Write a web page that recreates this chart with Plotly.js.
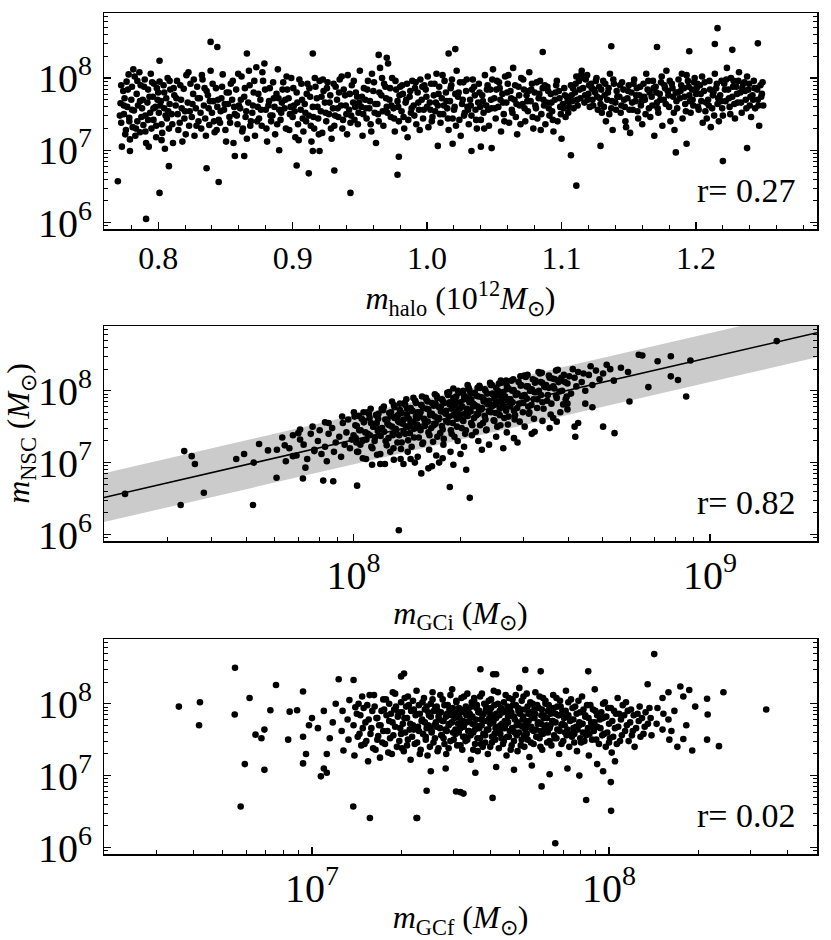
<!DOCTYPE html>
<html><head><meta charset="utf-8">
<script src="https://cdn.plot.ly/plotly-3.0.1.min.js"></script>
<style>html,body{margin:0;padding:0;background:#fff;}#plot{width:831px;height:940px;}</style>
</head><body><div id="plot"></div>
<script>
// ---- Panel 1: halo mass (10^12 Msun) vs log10 M_NSC ----
const haloMass = [
0.772,0.7725,0.773, 0.774,0.7745,0.775, 0.776,0.7765,0.777, 0.778,0.7785,0.779, 0.780,0.7805,0.781,
0.782,0.7825,0.783, 0.784,0.7845,0.785, 0.786,0.7865,0.787, 0.788,0.7885,0.789, 0.790,0.7905,0.791,
0.792,0.7925,0.793, 0.794,0.7945,0.795, 0.796,0.7965,0.797, 0.798,0.7985,0.799, 0.800,0.8005,0.801,
0.802,0.8025,0.803, 0.804,0.8045,0.805, 0.806,0.8065,0.807, 0.808,0.8085,0.809, 0.810,0.811,0.812,
0.813,0.814,0.815, 0.816,0.817,0.818, 0.819,0.820,0.821, 0.822,0.823,0.824, 0.825,0.826,0.827,
0.828,0.829,0.830, 0.831,0.832,0.833, 0.834,0.835,0.836, 0.837,0.838,0.839, 0.840,0.841,0.842,
0.843,0.844,0.845, 0.846,0.847,0.848, 0.849,0.850,0.851, 0.852,0.853,0.854, 0.855,0.856,0.857,
0.858,0.859,0.860, 0.861,0.862,0.863, 0.864,0.865,0.866, 0.867,0.868,0.869, 0.870,0.871,0.872,
0.873,0.874,0.875, 0.876,0.877,0.878, 0.879,0.880,0.881, 0.882,0.883,0.884, 0.885,0.886,0.887,
0.888,0.889,0.890, 0.891,0.892,0.893, 0.894,0.895,0.896, 0.897,0.898,0.899, 0.900,0.901,0.902,
0.903,0.904,0.905, 0.906,0.907,0.908, 0.909,0.910,0.911, 0.912,0.913,0.914, 0.915,0.916,0.917,
0.918,0.919,0.920, 0.921,0.922,0.923, 0.924,0.925,0.926, 0.927,0.928,0.929, 0.930,0.931,0.932,
0.933,0.934,0.935, 0.936,0.937,0.938, 0.939,0.940,0.941, 0.942,0.943,0.944, 0.945,0.946,0.947,
0.948,0.949,0.950, 0.951,0.952,0.953, 0.954,0.955,0.956, 0.957,0.958,0.959, 0.960,0.961,0.962,
0.963,0.964,0.965, 0.966,0.967,0.968, 0.969,0.970,0.971, 0.972,0.973,0.974, 0.975,0.976,0.977,
0.978,0.979,0.980, 0.981,0.982,0.983, 0.984,0.985,0.986, 0.987,0.988,0.989, 0.990,0.991,0.992,
0.993,0.994,0.995, 0.996,0.997,0.998, 0.999,1.000,1.001, 1.002,1.003,1.004, 1.005,1.006,1.007,
1.008,1.009,1.010, 1.011,1.012,1.013, 1.014,1.015,1.016, 1.017,1.018,1.019, 1.020,1.021,1.022,
1.023,1.024,1.025, 1.026,1.027,1.028, 1.029,1.030,1.031, 1.032,1.033,1.034, 1.035,1.036,1.037,
1.038,1.039,1.040, 1.041,1.042,1.043, 1.044,1.045,1.046, 1.047,1.048,1.049, 1.050,1.051,1.052,
1.053,1.054,1.055, 1.056,1.057,1.058, 1.059,1.060,1.061, 1.062,1.063,1.064, 1.065,1.066,1.067,
1.068,1.069,1.070, 1.071,1.072,1.073, 1.074,1.075,1.076, 1.077,1.078,1.079, 1.080,1.081,1.082,
1.083,1.084,1.085, 1.086,1.087,1.088, 1.089,1.090,1.091, 1.092,1.093,1.094, 1.095,1.096,1.097,
1.098,1.099,1.100, 1.101,1.102,1.103, 1.104,1.105,1.106, 1.107,1.108,1.109, 1.110,1.111,1.112,
1.113,1.114,1.115, 1.116,1.117,1.118, 1.119,1.120,1.121, 1.122,1.123,1.124, 1.125,1.126,1.127,
1.128,1.129,1.130, 1.131,1.132,1.133, 1.134,1.135,1.136, 1.137,1.138,1.139, 1.140,1.141,1.142,
1.143,1.144,1.145, 1.146,1.147,1.148, 1.149,1.150,1.151, 1.152,1.153,1.154, 1.155,1.156,1.157,
1.158,1.159,1.160, 1.161,1.162,1.163, 1.164,1.165,1.166, 1.167,1.168,1.169, 1.170,1.171,1.172,
1.173,1.174,1.175, 1.176,1.177,1.178, 1.179,1.180,1.181, 1.182,1.183,1.184, 1.185,1.186,1.187,
1.188,1.189,1.190, 1.191,1.192,1.193, 1.194,1.195,1.196, 1.197,1.198,1.199, 1.200,1.201,1.202,
1.203,1.204,1.205, 1.206,1.207,1.208, 1.209,1.210,1.211, 1.212,1.213,1.214, 1.215,1.216,1.217,
1.218,1.219,1.220, 1.221,1.222,1.223, 1.224,1.225,1.226, 1.227,1.228,1.229, 1.230,1.231,1.232,
1.233,1.234,1.235, 1.236,1.237,1.238, 1.239,1.240,1.241, 1.242,1.243,1.244, 1.245,1.246,1.247,
1.248,1.249,1.250,
0.7715,0.7725, 0.7745,0.7755, 0.7775,0.7785, 0.7805,0.7815, 0.7835,0.7845,
0.7865,0.7875, 0.7895,0.7905, 0.7925,0.7935, 0.7955,0.7965, 0.7985,0.7995,
0.8015,0.8025, 0.8045,0.8055, 0.8075,0.8085, 0.8105,0.8115, 0.8135,0.8145,
0.8165,0.8175, 0.8195,0.8205, 0.8225,0.8235, 0.8255,0.8265, 0.8285,0.8295,
0.8315,0.8325, 0.8345,0.8355, 0.8375,0.8385, 0.8405,0.8415, 0.8435,0.8445,
0.8465,0.8475, 0.8495,0.8505, 0.8525,0.8535, 0.8555,0.8565, 0.8585,0.8595,
0.8615,0.8625, 0.8645,0.8655, 0.8675,0.8685, 0.8705,0.8715, 0.8735,0.8745,
0.8765,0.8775, 0.8795,0.8805, 0.8825,0.8835, 0.8855,0.8865, 0.8885,0.8895,
0.8915,0.8925, 0.8945,0.8955, 0.8975,0.8985, 0.9005,0.9015, 0.9035,0.9045,
0.9065,0.9075, 0.9095,0.9105, 0.9125,0.9135, 0.9155,0.9165, 0.9185,0.9195,
0.9215,0.9225, 0.9245,0.9255, 0.9275,0.9285, 0.9305,0.9315, 0.9335,0.9345,
0.9365,0.9375, 0.9395,0.9405, 0.9425,0.9435, 0.9455,0.9465, 0.9485,0.9495,
0.9515,0.9525, 0.9545,0.9555, 0.9575,0.9585, 0.9605,0.9615, 0.9635,0.9645,
0.9665,0.9675, 0.9695,0.9705, 0.9725,0.9735, 0.9755,0.9765, 0.9785,0.9795,
0.9815,0.9825, 0.9845,0.9855, 0.9875,0.9885, 0.9905,0.9915, 0.9935,0.9945,
0.9965,0.9975, 0.9995,1.0005, 1.0025,1.0035, 1.0055,1.0065, 1.0085,1.0095,
1.0115,1.0125, 1.0145,1.0155, 1.0175,1.0185, 1.0205,1.0215, 1.0235,1.0245,
1.0265,1.0275, 1.0295,1.0305, 1.0325,1.0335, 1.0355,1.0365, 1.0385,1.0395,
1.0415,1.0425, 1.0445,1.0455, 1.0475,1.0485, 1.0505,1.0515, 1.0535,1.0545,
1.0565,1.0575, 1.0595,1.0605, 1.0625,1.0635, 1.0655,1.0665, 1.0685,1.0695,
1.0715,1.0725, 1.0745,1.0755, 1.0775,1.0785, 1.0805,1.0815, 1.0835,1.0845,
1.0865,1.0875, 1.0895,1.0905, 1.0925,1.0935, 1.0955,1.0965, 1.0985,1.0995,
1.1015,1.1025, 1.1045,1.1055, 1.1075,1.1085, 1.1105,1.1115, 1.1135,1.1145,
1.1165,1.1175, 1.1195,1.1205, 1.1225,1.1235, 1.1255,1.1265, 1.1285,1.1295,
1.1315,1.1325, 1.1345,1.1355, 1.1375,1.1385, 1.1405,1.1415, 1.1435,1.1445,
1.1465,1.1475, 1.1495,1.1505, 1.1525,1.1535, 1.1555,1.1565, 1.1585,1.1595,
1.1615,1.1625, 1.1645,1.1655, 1.1675,1.1685, 1.1705,1.1715, 1.1735,1.1745,
1.1765,1.1775, 1.1795,1.1805, 1.1825,1.1835, 1.1855,1.1865, 1.1885,1.1895,
1.1915,1.1925, 1.1945,1.1955, 1.1975,1.1985, 1.2005,1.2015, 1.2035,1.2045,
1.2065,1.2075, 1.2095,1.2105, 1.2125,1.2135, 1.2155,1.2165, 1.2185,1.2195,
1.2215,1.2225, 1.2245,1.2255, 1.2275,1.2285, 1.2305,1.2315, 1.2335,1.2345,
1.2365,1.2375, 1.2395,1.2405, 1.2425,1.2435, 1.2455,1.2465, 1.2485,1.2495,
0.770,0.791,0.801,0.808,0.836,0.845,0.839,0.844,0.866,0.801,0.857,0.864,0.903,0.912,0.915,0.931,
0.943,0.978,0.979,0.964,0.970,0.915,0.920,0.890,0.779,1.107,1.111,1.129,1.220,1.238,1.216,1.214,
1.246,1.227,1.185,1.193,1.137,1.171,1.021,1.016,1.008,1.033,1.040,1.048,1.019,1.086,1.195
];
const nscLogA = [
7.65,7.38,7.05, 7.82,7.50,7.72, 7.28,7.95,7.60, 8.05,7.45,7.15, 7.70,7.88,7.32,
7.55,8.02,7.20, 7.78,7.40,7.62, 8.08,7.25,7.90, 7.58,7.70,7.35, 7.98,7.48,7.10,
7.66,7.84,7.05, 7.52,8.06,7.30, 7.74,7.42,7.92, 7.60,7.18,7.86, 7.80,7.52,7.95,
7.68,7.36,7.24, 7.90,7.58,7.02, 7.72,7.44,8.00, 7.30,7.64,7.84, 7.50,7.10,7.76,
7.62,7.96,7.28, 7.38,7.70,7.12, 7.85,7.54,8.04, 7.66,7.34,7.92, 7.46,7.78,7.20,
7.58,7.88,7.40, 7.72,7.30,7.98, 7.62,7.44,7.82, 7.76,7.35,8.10, 7.52,7.68,7.25,
7.86,7.60,7.42, 7.38,7.72,8.05, 7.56,7.28,7.80, 7.64,7.46,7.92, 7.70,7.10,7.50,
7.84,7.36,7.62, 7.58,8.02,7.30, 7.74,7.46,7.16, 7.66,7.90,7.40, 7.52,7.80,7.20,
8.15,7.60,7.44, 7.70,7.34,7.96, 8.20,7.56,7.12, 7.62,7.86,7.40, 7.48,7.72,7.22,
7.78,8.12,7.56, 7.42,7.66,7.94, 7.58,7.30,7.84, 7.72,7.50,8.00, 7.46,7.62,7.18,
7.80,7.36,7.98, 7.56,7.70,7.26, 7.64,7.40,7.92, 7.48,7.74,7.12, 7.60,7.30,7.88,
7.72,7.44,7.96, 7.54,7.24,7.82, 7.66,7.40,7.94, 7.50,7.76,7.16, 7.58,7.34,7.88,
7.70,7.46,7.98, 7.62,7.30,7.84, 7.76,7.50,8.04, 7.56,7.38,7.90, 7.66,7.42,7.80,
7.74,7.52,8.10, 7.60,7.20,7.86, 7.70,7.44,7.96, 7.58,7.36,8.06, 7.82,7.52,7.10,
7.64,7.40,8.14, 7.76,7.54,7.92, 7.88,7.60,8.20, 7.70,7.46,8.00, 7.58,7.26,7.84,
7.68,7.40,7.88, 7.54,7.78,7.30, 7.66,7.92,7.42, 7.74,7.52,7.96, 7.62,7.86,7.36,
7.80,7.56,7.98, 7.70,7.44,7.90, 7.84,7.60,7.32, 7.66,7.92,7.46, 7.76,7.54,8.06,
7.62,7.88,7.38, 7.72,7.50,7.96, 7.80,7.58,7.28, 7.68,7.90,7.44, 7.56,7.78,8.10,
7.74,7.42,7.20, 7.64,7.94,7.52, 7.82,7.60,7.36, 7.70,7.48,7.98, 7.88,7.56,7.30,
7.66,7.80,7.42, 7.76,7.52,8.04, 7.62,7.90,7.34, 7.84,7.58,8.12, 7.72,7.44,7.96,
7.60,7.86,7.26, 7.78,7.50,8.02, 7.66,7.92,7.38, 7.82,7.56,8.14, 7.70,7.46,7.22,
7.88,7.62,8.00, 7.64,7.84,7.40, 7.76,7.54,8.08, 7.68,7.92,7.30, 7.80,7.58,7.44,
7.72,7.96,7.50, 7.86,7.62,7.36, 7.66,7.82,7.48, 7.78,7.54,7.26, 7.70,7.90,7.40,
7.82,7.60,7.16, 7.64,7.86,7.46, 7.74,7.52,7.68, 7.90,7.68,7.58, 7.80,8.02,7.62,
7.96,7.72,8.10, 7.86,7.66,7.98, 8.04,7.78,7.60, 7.92,7.70,7.84, 7.80,8.00,7.56,
7.88,7.64,7.52, 7.96,7.76,7.40, 7.70,7.86,8.06, 7.58,7.28,7.92, 7.66,7.82,7.74,
7.74,7.52,7.94, 7.84,7.60,7.32, 7.72,7.90,7.24, 7.80,7.56,7.98, 7.68,7.86,7.44,
7.76,7.62,7.36, 7.92,7.70,8.06, 7.84,7.58,7.46, 7.74,7.96,7.20, 7.88,7.66,7.52,
7.78,7.94,7.34, 7.70,7.86,8.10, 7.82,7.60,7.40, 7.92,7.74,7.28, 7.80,7.58,7.98,
7.72,7.90,7.44, 7.86,7.64,8.04, 7.96,7.76,7.52, 7.84,7.62,8.00, 7.78,7.92,7.56,
7.90,7.68,7.38, 7.82,7.54,7.44, 7.70,7.96,7.32, 7.58,7.80,8.06, 7.86,7.64,7.40,
7.76,7.96,7.48, 7.92,7.68,8.14, 7.84,7.60,8.00, 7.74,7.96,7.44, 7.88,7.66,8.08,
7.80,7.52,7.92, 7.94,7.70,8.02, 7.84,7.62,7.46, 7.76,7.96,7.58, 7.86,7.70,7.34,
7.90,7.78,7.62,
7.48,7.90, 7.62,7.22, 7.84,7.40, 7.56,8.12, 7.30,7.96,
7.68,7.46, 7.88,7.26, 7.42,7.74, 7.94,7.58, 7.34,7.70,
7.62,7.14, 7.80,7.48, 7.54,7.96, 7.36,7.86, 7.72,7.50,
7.90,7.58, 7.44,7.22, 8.08,7.54, 7.64,7.98, 7.34,7.72,
7.52,8.04, 7.86,7.20, 7.58,7.68, 7.92,7.40, 7.28,7.70,
7.54,7.88, 7.64,7.12, 7.80,7.38, 7.96,7.60, 7.48,8.06,
7.70,7.26, 7.86,7.54, 8.10,7.34, 7.62,7.96, 7.40,7.78,
7.56,8.08, 7.84,7.30, 7.68,7.48, 7.94,7.60, 7.36,7.72,
7.52,7.84, 7.70,8.02, 7.28,7.60, 7.86,7.54, 7.66,7.14,
7.92,7.44, 7.52,7.78, 7.86,7.34, 7.46,8.00, 7.60,7.22,
7.74,7.98, 7.52,7.86, 7.66,7.30, 7.92,7.48, 7.58,7.80,
8.02,7.42, 7.62,7.22, 7.78,7.48, 7.96,7.60, 7.36,7.66,
7.74,7.50, 7.58,7.84, 7.68,7.26, 7.94,7.64, 7.50,7.80,
8.00,7.34, 7.72,7.52, 7.86,7.62, 7.44,7.96, 7.60,7.76,
7.90,7.46, 7.70,7.18, 7.82,7.58, 7.48,7.94, 7.66,7.28,
7.88,7.56, 7.74,8.02, 7.56,7.40, 7.92,7.66, 7.78,7.50,
8.04,7.62, 7.68,7.44, 7.86,7.98, 7.60,7.34, 7.80,7.94,
7.70,7.48, 7.98,7.56, 7.62,7.84, 7.76,7.42, 7.92,7.60,
7.68,7.30, 7.84,7.56, 7.70,7.98, 7.58,7.84, 7.94,7.70,
7.66,7.40, 7.80,8.04, 7.72,7.52, 7.90,7.64, 7.76,7.36,
7.98,7.58, 7.68,7.82, 7.84,7.46, 7.62,7.94, 7.78,7.28,
7.70,7.90, 7.88,7.58, 7.66,7.42, 7.80,7.96, 7.72,7.50,
7.58,7.76, 7.68,7.60, 7.76,7.86, 7.92,7.70, 7.84,8.04,
8.00,7.76, 7.70,7.90, 7.86,7.62, 7.96,7.74, 7.72,7.84,
7.60,7.92, 7.80,7.50, 7.68,7.98, 7.56,7.74, 7.90,7.62,
7.70,7.40, 7.82,7.56, 7.66,7.92, 7.76,7.54, 7.88,7.68,
7.74,7.50, 7.96,7.80, 7.62,7.86, 7.80,7.58, 7.70,8.02,
7.90,7.64, 7.76,7.96, 7.86,7.52, 7.68,7.80, 7.82,8.06,
7.74,7.54, 7.88,7.68, 7.70,7.94, 7.86,7.60, 7.78,8.02,
7.94,7.66, 7.62,7.84, 7.76,7.48, 7.92,7.72, 7.68,7.58,
7.84,7.98, 7.72,7.50, 7.88,7.64, 7.78,7.96, 7.66,7.86,
7.82,7.58, 7.92,7.74, 7.70,7.86, 7.84,7.62, 7.74,7.94,
6.57,6.05,6.41,6.78,6.75,6.56,8.50,8.43,8.34,8.24,6.92,6.92,6.79,6.68,8.34,6.72,
6.41,6.66,6.91,8.32,8.28,6.99,6.99,7.00,6.99,6.93,6.51,7.06,6.85,7.03,8.69,8.47,
8.48,8.39,6.97,7.09,8.44,8.43,8.40,8.34,7.06,6.99,7.05,7.03,7.09,8.36,8.37
];

// ---- Panel 2: log10 initial GC mass vs log10 M_NSC ----
const gciLog = [
7.80,7.81, 7.82,7.83, 7.84,7.85, 7.86,7.87,
7.88,7.89,7.885, 7.90,7.91,7.905, 7.92,7.93,7.925, 7.94,7.95,7.945,
7.96,7.97,7.965,7.975, 7.98,7.99,7.985,7.995,
8.00,8.005,8.01,8.015,8.008, 8.02,8.025,8.03,8.035,8.028,
8.04,8.045,8.05,8.055,8.048, 8.06,8.065,8.07,8.075,8.068,
8.08,8.085,8.09,8.095,8.088, 8.10,8.105,8.11,8.115,8.108,8.112,
8.12,8.125,8.13,8.135,8.128,8.132, 8.14,8.145,8.15,8.155,8.148,8.152,
8.16,8.165,8.17,8.175,8.168,8.172, 8.18,8.185,8.19,8.195,8.188,8.192,
8.20,8.205,8.21,8.215,8.208,8.212, 8.22,8.225,8.23,8.235,8.228,8.232,
8.24,8.245,8.25,8.255,8.248,8.252, 8.26,8.265,8.27,8.275,8.268,8.272,
8.28,8.285,8.29,8.295,8.288,8.292, 8.30,8.305,8.31,8.315,8.308,8.312,
8.32,8.325,8.33,8.335,8.328,8.332, 8.34,8.345,8.35,8.355,8.348,8.352,
8.36,8.365,8.37,8.375,8.368,8.372, 8.38,8.385,8.39,8.395,8.388,8.392,
8.40,8.405,8.41,8.415,8.408,8.412, 8.42,8.425,8.43,8.435,8.428,8.432,
8.44,8.445,8.45,8.455,8.448,8.452, 8.46,8.465,8.47,8.475,8.468,8.472,
8.48,8.485,8.49,8.495,8.488,8.492, 8.50,8.505,8.51,8.515,8.508,
8.52,8.525,8.53,8.535,8.528, 8.54,8.545,8.55,8.555,8.548,
8.56,8.565,8.57,8.575,8.568, 8.58,8.585,8.59,8.595,
8.60,8.605,8.61,8.615, 8.62,8.625,8.63, 8.64,8.645,8.65,
8.66,8.665,8.67, 8.68,8.69, 8.70,8.71, 8.72,8.73, 8.75, 8.77,
8.35,8.38,8.40,8.43,8.45,8.48,8.36,8.30,8.25,8.22,8.18,8.31,8.42,8.46,8.50,8.53,8.56,8.58,8.60,
8.003,8.006,8.009, 8.013,8.016,8.019, 8.023,8.026,8.029, 8.033,8.036,8.039, 8.043,8.046,8.049,
8.053,8.056,8.059, 8.063,8.066,8.069, 8.073,8.076,8.079, 8.083,8.086,8.089,
8.093,8.095,8.098,8.100, 8.103,8.105,8.108,8.110, 8.113,8.115,8.118,8.120, 8.123,8.125,8.128,8.130,
8.133,8.135,8.138,8.140, 8.143,8.145,8.148,8.150, 8.153,8.155,8.158,8.160, 8.163,8.165,8.168,8.170,
8.173,8.175,8.178,8.180, 8.183,8.185,8.188,8.190, 8.193,8.195,8.198,8.200, 8.203,8.205,8.208,8.210,
8.213,8.215,8.218,8.220, 8.223,8.225,8.228,8.230, 8.233,8.235,8.238,8.240, 8.243,8.245,8.248,8.250,
8.253,8.255,8.258,8.260, 8.263,8.265,8.268,8.270, 8.273,8.275,8.278,8.280, 8.283,8.285,8.288,8.290,
8.293,8.295,8.298,8.300, 8.303,8.305,8.308,8.310, 8.313,8.315,8.318,8.320, 8.323,8.325,8.328,8.330,
8.333,8.335,8.338,8.340, 8.343,8.345,8.348,8.350, 8.353,8.355,8.358,8.360, 8.363,8.365,8.368,8.370,
8.373,8.375,8.378,8.380, 8.383,8.385,8.388,8.390, 8.393,8.395,8.398,8.400, 8.403,8.405,8.408,8.410,
8.413,8.415,8.418,8.420, 8.423,8.425,8.428,8.430, 8.433,8.435,8.438,8.440,
8.443,8.446,8.449, 8.453,8.456,8.459, 8.463,8.466,8.469, 8.473,8.476,8.479, 8.483,8.486,8.489,
8.493,8.496,8.499, 8.503,8.506,8.509, 8.513,8.516,8.519, 8.523,8.526,8.529,
8.533,8.538, 8.543,8.548, 8.553,8.558, 8.563,8.568, 8.573,8.578, 8.583,8.588, 8.593,8.598,
7.359,7.515,7.525,7.546,7.555,7.58,7.671,7.693,7.718,7.72,7.735,7.76,7.784,7.785,7.807,7.83,
7.845,7.85,7.858,7.865,7.89,7.915,7.92,7.93,7.943,7.968,8.001,8.01,8.127,8.052,8.075,8.113,
8.14,8.16,8.27,8.326,8.316,8.19,8.21,8.24,8.28,8.622,8.70,8.732,8.62,8.63,8.774,8.827,
8.933,9.187,8.945,8.89,8.853,8.80,8.81,8.91,8.89,8.508,8.55,8.57,8.60,8.65,8.67,8.32,8.28
];
const nscLogB = [
7.35,7.02, 7.20,7.38, 7.10,7.32, 7.25,7.05,
7.40,7.18,7.50, 7.30,7.12,7.45, 7.22,7.40,7.02, 7.48,7.28,7.15,
7.36,7.55,7.08,7.25, 7.42,7.20,7.60,7.32,
7.38,7.52,7.15,7.65,7.28, 7.45,7.30,7.58,7.05,7.70,
7.40,7.62,7.22,7.50,7.75, 7.35,7.55,7.68,7.12,7.44,
7.48,7.78,7.30,7.60,6.98, 7.52,7.70,7.38,7.62,7.85,7.20,
7.45,7.66,7.82,7.28,7.56,7.05, 7.60,7.40,7.75,7.50,7.88,7.15,
7.55,7.72,7.35,7.64,7.90,7.00, 7.62,7.48,7.80,7.28,7.70,7.92,
7.58,7.75,7.42,7.66,7.85,7.18, 7.68,7.52,7.82,7.36,7.95,7.10,
7.62,7.78,7.46,7.70,7.88,7.25, 7.72,7.56,7.84,7.40,7.98,7.15,
7.66,7.80,7.50,7.74,7.92,7.30, 7.76,7.60,7.88,7.45,8.00,7.68,
7.70,7.84,7.55,7.78,7.96,7.38, 7.80,7.66,7.92,7.52,8.04,7.74,
7.76,7.88,7.60,7.82,8.02,7.45, 7.86,7.70,7.96,7.58,8.08,7.80,
7.82,7.94,7.66,7.88,8.10,7.52, 7.90,7.76,8.02,7.64,8.14,7.86,
7.88,8.00,7.72,7.94,8.16,7.60, 7.96,7.82,8.08,7.70,8.20,7.92,
7.94,8.06,7.78,8.00,8.22,7.68, 8.02,7.88,8.14,7.76,7.98,
8.00,8.12,7.84,8.06,8.25, 8.08,7.94,8.18,7.82,8.04,
8.06,8.16,7.90,8.12,8.28, 8.14,8.00,8.22,7.88,
8.10,8.20,7.96,8.30, 8.18,8.06,8.26, 8.12,8.24,8.00,
8.22,8.34,8.08, 8.28,8.16, 8.24,8.36, 8.30,8.14, 8.32, 8.26,
7.30,7.25,7.36,7.42,7.34,7.50,7.18,7.12,7.06,6.95,7.08,7.22,7.20,7.28,7.40,7.58,7.62,7.70,7.74,
7.64,7.34,7.51, 7.15,7.45,7.25, 7.61,7.06,7.56, 7.42,7.32,7.70, 7.68,7.38,7.55,
7.20,7.50,7.30, 7.66,7.11,7.61, 7.47,7.37,7.75, 7.73,7.43,7.60,
7.24,7.54,7.34,7.69, 7.15,7.65,7.50,7.40, 7.80,7.77,7.47,7.64, 7.28,7.58,7.38,7.73,
7.19,7.69,7.54,7.44, 7.83,7.80,7.50,7.67, 7.31,7.61,7.41,7.76, 7.22,7.72,7.57,7.47,
7.86,7.83,7.53,7.70, 7.35,7.65,7.45,7.80, 7.26,7.76,7.61,7.51, 7.90,7.87,7.57,7.74,
7.38,7.68,7.48,7.83, 7.29,7.79,7.64,7.54, 7.93,7.90,7.60,7.77, 7.41,7.71,7.51,7.86,
7.33,7.83,7.68,7.58, 7.97,7.94,7.64,7.81, 7.45,7.75,7.55,7.90, 7.36,7.86,7.71,7.61,
8.00,7.97,7.67,7.84, 7.48,7.78,7.58,7.93, 7.40,7.90,7.75,7.65, 8.04,8.01,7.71,7.88,
7.52,7.82,7.62,7.97, 7.43,7.93,7.78,7.68, 8.07,8.04,7.74,7.91, 7.55,7.85,7.65,8.00,
7.46,7.96,7.81,7.71, 8.11,8.08,7.78,7.95, 7.59,7.89,7.69,8.04, 7.50,8.00,7.85,7.75,
8.14,8.11,7.81,7.98, 7.62,7.92,7.72,8.07, 7.53,8.03,7.88,7.78,
8.14,7.84,8.01, 7.66,7.96,7.76, 8.12,7.57,8.07, 7.93,7.83,8.21, 8.19,7.89,8.06,
7.70,8.00,7.80, 8.16,7.61,8.11, 7.98,7.88,8.26, 8.24,7.94,8.11,
7.75,8.05, 7.86,8.21, 7.67,8.17, 8.03,7.93, 8.29,7.99, 8.18,7.81, 8.12,7.92,
6.565,6.41,7.16,7.09,6.98,6.58,7.05,7.12,6.41,7.00,7.26,7.17,6.79,7.18,7.24,7.09,
7.41,7.46,6.78,6.93,7.16,6.75,7.56,7.55,6.74,7.64,7.70,6.68,6.06,6.97,6.98,7.04,
6.98,7.05,6.66,6.51,6.90,6.85,6.92,7.00,6.97,7.36,7.50,7.41,7.50,7.55,7.85,8.05,
7.92,8.69,8.42,8.48,8.41,8.50,8.49,8.15,8.20,7.43,7.48,7.57,7.82,7.82,7.77,8.08,8.03
];
// power-law fit: log M_NSC = fitIntercept + fitSlope * log M_GCi, shaded +/- fitScatter dex
const fitSlope = 1.146;
const fitIntercept = -1.852;
const fitScatter = 0.34;

// ---- Panel 3: log10 final GC mass vs log10 M_NSC ----
const gcfLog = [
7.10,7.103,7.106, 7.12,7.123,7.126, 7.14,7.143,7.146,
7.16,7.163,7.166,7.169, 7.18,7.183,7.186,7.189, 7.20,7.203,7.206,7.209,
7.22,7.223,7.226,7.229, 7.24,7.243,7.246,7.249, 7.26,7.263,7.266,7.269,7.272,
7.28,7.283,7.286,7.289, 7.30,7.303,7.306,7.309,7.312, 7.32,7.323,7.326,7.329,7.332,
7.34,7.343,7.346,7.349,7.352, 7.36,7.363,7.366,7.369,7.372, 7.38,7.383,7.386,7.389,7.392,7.395,
7.40,7.403,7.406,7.409,7.412,7.415, 7.42,7.423,7.426,7.429,7.432,7.435,
7.44,7.443,7.446,7.449,7.452,7.455, 7.46,7.463,7.466,7.469,7.472,7.475,
7.48,7.483,7.486,7.489,7.492,7.495, 7.50,7.503,7.506,7.509,7.512,7.515,7.518,
7.52,7.523,7.526,7.529,7.532,7.535,7.538, 7.54,7.543,7.546,7.549,7.552,7.555,7.558,
7.56,7.563,7.566,7.569,7.572,7.575,7.578, 7.58,7.583,7.586,7.589,7.592,7.595,7.598,
7.60,7.603,7.606,7.609,7.612,7.615,7.618, 7.62,7.623,7.626,7.629,7.632,7.635,7.638,
7.64,7.643,7.646,7.649,7.652,7.655,7.658, 7.66,7.663,7.666,7.669,7.672,7.675,7.678,
7.68,7.683,7.686,7.689,7.692,7.695,7.698, 7.70,7.703,7.706,7.709,7.712,7.715,7.718,
7.72,7.723,7.726,7.729,7.732,7.735,7.738, 7.74,7.743,7.746,7.749,7.752,7.755,7.758,
7.76,7.763,7.766,7.769,7.772,7.775,7.778, 7.78,7.783,7.786,7.789,7.792,7.795,
7.80,7.803,7.806,7.809,7.812,7.815, 7.82,7.823,7.826,7.829,7.832,7.835,
7.84,7.843,7.846,7.849,7.852,7.855, 7.86,7.863,7.866,7.869,7.872,7.875,
7.88,7.883,7.886,7.889,7.892, 7.90,7.903,7.906,7.909,7.912, 7.92,7.923,7.926,7.929,7.932,
7.94,7.943,7.946,7.949,7.952, 7.96,7.963,7.966,7.969, 7.98,7.983,7.986,7.989,
8.00,8.003,8.006,8.009, 8.02,8.023,8.026,8.029, 8.04,8.043,8.046, 8.06,8.063,8.066,
8.08,8.083,8.086, 8.10,8.103,8.106, 8.12,8.123, 8.14,8.143, 8.16,8.163, 8.18,8.183, 8.20,8.203,
7.40,7.45,7.55,7.62,7.68,7.74,7.80,7.86,7.90,7.96,7.98,8.02, 8.21,8.22,8.23,8.26,8.29,8.18,8.20,
7.151,7.154,7.157, 7.171,7.174,7.177, 7.191,7.194,7.197,
7.211,7.214,7.217,7.220, 7.231,7.234,7.237,7.240, 7.251,7.254,7.257,7.260, 7.271,7.274,7.277,7.280,
7.291,7.294,7.297,7.300,7.303, 7.311,7.314,7.317,7.320,7.323, 7.331,7.334,7.337,7.340,7.343, 7.351,7.354,7.357,7.360,7.363,
7.371,7.374,7.377,7.380,7.383,7.386, 7.391,7.394,7.397,7.400,7.403,7.406, 7.411,7.414,7.417,7.420,7.423,7.426,
7.431,7.434,7.437,7.440,7.443,7.446, 7.451,7.454,7.457,7.460,7.463,7.466, 7.471,7.474,7.477,7.480,7.483,7.486,
7.491,7.494,7.497,7.500,7.503,7.506,7.509, 7.511,7.514,7.517,7.520,7.523,7.526,7.529,
7.531,7.534,7.537,7.540,7.543,7.546,7.549, 7.551,7.554,7.557,7.560,7.563,7.566,7.569,
7.571,7.574,7.577,7.580,7.583,7.586,7.589, 7.591,7.594,7.597,7.600,7.603,7.606,7.609,
7.611,7.614,7.617,7.620,7.623,7.626,7.629, 7.631,7.634,7.637,7.640,7.643,7.646,7.649,
7.651,7.654,7.657,7.660,7.663,7.666,7.669, 7.671,7.674,7.677,7.680,7.683,7.686,7.689,
7.691,7.694,7.697,7.700,7.703,7.706,7.709, 7.711,7.714,7.717,7.720,7.723,7.726,7.729,
7.731,7.734,7.737,7.740,7.743,7.746,7.749, 7.751,7.754,7.757,7.760,7.763,7.766,7.769,
7.771,7.774,7.777,7.780,7.783,7.786, 7.791,7.794,7.797,7.800,7.803,7.806,
7.811,7.814,7.817,7.820,7.823,7.826, 7.831,7.834,7.837,7.840,7.843,7.846,
7.851,7.854,7.857,7.860,7.863, 7.871,7.874,7.877,7.880,7.883, 7.891,7.894,7.897,7.900,7.903, 7.911,7.914,7.917,7.920,7.923,
7.931,7.934,7.937,7.940, 7.951,7.954,7.957,7.960, 7.971,7.974,7.977,7.980, 7.991,7.994,7.997,8.000,
8.011,8.014,8.017, 8.031,8.034,8.037, 8.051,8.054,8.057, 8.071,8.074,8.077,
8.091,8.096, 8.111,8.116, 8.131,8.136,
6.552,6.623,6.62,6.741,6.74,6.76,6.774,6.79,6.81,6.83,6.84,6.84,6.86,6.879,6.92,6.925,
6.95,6.97,6.97,6.97,6.98,6.99,7.139,7.195,7.352,7.03,7.05,7.04,7.09,7.14,7.31,7.30,
8.152,8.385,8.529,8.332,8.33,8.33,8.37,8.28,8.27,8.24,8.25,8.13,8.25,7.819,8.007,8.006,
7.923,7.773,7.354,7.386,7.485,7.50,7.51,7.608,7.567,7.718,7.77,7.61,7.62,7.93,7.02,7.04,
7.06,7.08,7.00,7.05,7.07
];
const nscLogC = [
7.62,7.90,7.35, 7.78,7.50,8.05, 7.70,7.28,7.95,
7.58,7.84,7.42,8.10, 7.74,7.48,7.98,7.20, 7.66,7.90,7.38,8.12,
7.80,7.55,7.70,7.25, 7.62,7.92,7.44,8.06, 7.76,7.52,7.86,7.30,8.16,
7.68,7.96,7.40,7.82, 7.58,7.88,7.72,7.34,8.08, 7.80,7.50,7.98,7.64,7.22,
7.70,7.92,7.44,7.84,8.18, 7.62,7.86,7.36,7.76,8.02, 7.74,7.54,7.96,7.28,7.88,7.66,
7.82,7.60,8.06,7.46,7.70,7.94, 7.68,7.90,7.38,7.78,8.12,7.56,
7.76,7.52,7.98,7.64,7.30,7.86, 7.70,7.92,7.48,7.84,8.20,7.60,
7.80,7.58,8.04,7.42,7.72,7.94, 7.66,7.88,7.36,7.76,8.10,7.54,7.96,
7.74,7.50,7.92,7.62,7.84,7.22,8.02, 7.82,7.60,8.08,7.44,7.70,7.98,7.34,
7.68,7.90,7.52,7.78,8.14,7.40,7.86, 7.76,7.56,7.96,7.64,7.30,8.04,7.88,
7.72,7.94,7.46,7.82,8.18,7.58,7.66, 7.80,7.62,8.00,7.38,7.90,7.70,7.52,
7.66,7.88,7.48,7.76,8.12,7.28,7.96, 7.74,7.54,7.94,7.84,7.42,8.06,7.62,
7.82,7.60,7.98,7.70,7.34,7.90,8.22, 7.70,7.92,7.50,7.78,8.10,7.40,7.64,
7.76,7.58,7.96,7.86,7.26,8.02,7.68, 7.64,7.88,7.44,7.80,8.16,7.54,7.98,
7.72,7.94,7.52,7.62,7.84,7.36,8.08, 7.80,7.60,8.00,7.70,7.46,7.90,
7.66,7.86,7.42,7.76,8.12,7.56, 7.74,7.52,7.96,7.84,7.30,8.04,
7.70,7.90,7.48,7.80,7.60,8.18, 7.64,7.84,7.40,7.76,8.06,7.54,
7.78,7.58,7.96,7.68,7.34, 7.70,7.88,7.46,8.10,7.60, 7.82,7.56,7.98,7.66,7.28,
7.74,7.50,7.92,7.62,8.20, 7.68,7.86,7.44,7.78, 7.80,7.58,8.02,7.40,
7.72,7.52,7.94,7.32, 7.66,7.86,7.44,8.08, 7.78,7.56,7.98, 7.70,7.90,7.48,
7.62,7.84,7.40, 7.76,7.96,7.54, 7.68,7.88, 7.80,7.56, 7.72,7.94, 7.64,7.86, 7.78,7.50,
7.06,7.10,7.04,7.12,7.08,7.14,7.02,7.10,7.00,7.16,7.06,7.20, 7.62,7.90,7.40,7.70,7.96,8.08,8.16,
7.86,7.54,8.00, 7.66,7.94,7.44, 7.78,8.12,7.58,
7.96,7.36,7.80,7.50, 7.70,7.90,7.46,8.06, 7.84,7.62,7.32,8.00, 7.74,7.56,7.92,8.14,
7.88,7.48,7.66,8.02,7.38, 7.80,7.60,7.96,7.42,8.10, 7.72,7.90,7.54,8.04,7.64, 7.86,7.46,7.68,7.98,7.30,
7.78,7.58,8.08,7.92,7.50,7.66, 7.70,7.84,7.40,8.00,7.62,8.16, 7.90,7.52,7.74,7.96,7.34,7.82,
7.66,7.88,7.56,8.06,7.76,7.44, 7.82,7.62,7.98,7.38,7.72,8.12, 7.74,7.94,7.50,7.86,7.64,8.02,
7.88,7.60,7.80,7.42,8.08,7.70,7.54, 7.68,7.92,7.48,7.84,8.14,7.62,7.76,
7.86,7.56,7.96,7.72,7.36,8.04,7.64, 7.78,7.94,7.52,7.88,7.66,8.10,7.44,
7.70,7.84,7.58,8.00,7.46,7.92,7.76, 7.90,7.64,7.80,7.40,8.06,7.54,7.74,
7.76,7.98,7.50,7.86,7.68,8.16,7.60, 7.84,7.58,7.94,7.72,7.44,8.02,7.66,
7.70,7.90,7.54,7.82,8.08,7.62,7.36, 7.88,7.66,7.98,7.48,7.78,8.12,7.56,
7.74,7.94,7.60,7.86,7.42,8.04,7.68, 7.82,7.56,7.92,7.70,8.14,7.50,7.76,
7.68,7.88,7.46,7.80,8.00,7.62,7.94, 7.86,7.64,7.96,7.54,7.74,8.10,7.40,
7.72,7.92,7.58,7.84,7.66,8.04, 7.80,7.60,7.98,7.48,7.70,7.90,
7.76,7.94,7.52,7.86,8.08,7.64, 7.84,7.62,7.96,7.44,7.72,7.88,
7.70,7.90,7.56,7.82,8.02, 7.78,7.58,7.94,7.66,7.46, 7.86,7.64,8.04,7.74,7.52, 7.72,7.92,7.48,7.84,7.60,
7.80,7.58,7.98,7.68, 7.74,7.90,7.50,7.84, 7.66,7.88,7.56,8.00, 7.82,7.60,7.94,7.46,
7.76,7.54,7.90, 7.68,7.86,7.48, 7.84,7.62,8.02, 7.74,7.92,7.56,
7.66,7.86, 7.80,7.58, 7.72,7.94,
7.96,8.02,7.70,8.50,7.85,6.57,7.16,8.08,7.57,7.52,7.64,7.08,7.91,8.26,7.50,7.89,
7.91,8.17,7.17,7.54,7.30,7.70,6.57,6.41,6.41,6.99,7.04,7.10,8.34,8.33,8.42,8.38,
8.69,8.16,7.92,7.85,8.07,7.50,7.41,7.35,8.19,8.24,8.10,8.27,7.51,6.06,6.51,6.91,
6.66,6.85,6.41,6.79,6.78,6.77,6.75,6.69,8.48,8.47,8.45,8.41,8.41,8.45,7.66,7.90,
7.52,8.00,7.80,7.30,7.74
];

// axis limits (log10 for the log axes)
const haloRange = [0.7597, 1.290];
const gciRangeLog = [7.30, 9.30];
const gcfRangeLog = [6.30, 8.70];
const nscRangeLog = [5.91, 8.90];
const rValues = ['r= 0.27', 'r= 0.82', 'r= 0.02'];

const pow10 = v => Math.pow(10, v);
const FONT = 'Liberation Serif, Times New Roman, serif';
const tickFont = {family: FONT, size: 32, color: '#000'};
const titleFont = {family: FONT, size: 32, color: '#000'};
const marker = {color: '#000', size: 6.6, line: {width: 0}};

const traces = [
  {type: 'scatter', mode: 'markers', x: haloMass, y: nscLogA.map(pow10), xaxis: 'x', yaxis: 'y', marker, hoverinfo: 'skip'},
  {type: 'scatter', mode: 'lines', x: gciRangeLog.map(pow10), y: gciRangeLog.map(l => pow10(fitIntercept + fitSlope * l - fitScatter)),
   xaxis: 'x2', yaxis: 'y2', line: {width: 0, color: 'rgba(0,0,0,0)'}, hoverinfo: 'skip'},
  {type: 'scatter', mode: 'lines', x: gciRangeLog.map(pow10), y: gciRangeLog.map(l => pow10(fitIntercept + fitSlope * l + fitScatter)),
   xaxis: 'x2', yaxis: 'y2', line: {width: 0, color: 'rgba(0,0,0,0)'}, fill: 'tonexty', fillcolor: '#cbcbcb', hoverinfo: 'skip'},
  {type: 'scatter', mode: 'markers', x: gciLog.map(pow10), y: nscLogB.map(pow10), xaxis: 'x2', yaxis: 'y2', marker, hoverinfo: 'skip'},
  {type: 'scatter', mode: 'lines', x: gciRangeLog.map(pow10), y: gciRangeLog.map(l => pow10(fitIntercept + fitSlope * l)),
   xaxis: 'x2', yaxis: 'y2', line: {width: 1.6, color: '#000'}, hoverinfo: 'skip'},
  {type: 'scatter', mode: 'markers', x: gcfLog.map(pow10), y: nscLogC.map(pow10), xaxis: 'x3', yaxis: 'y3', marker, hoverinfo: 'skip'}
];

const xDom = [104/831, 817/831];
const yDoms = [[(940-229)/940, (940-13)/940], [(940-541)/940, (940-326)/940], [(940-854)/940, (940-639)/940]];

const common = {
  ticks: 'inside', ticklen: 7, tickwidth: 1.2, tickcolor: '#000',
  showline: true, linecolor: '#000', linewidth: 1.5,
  showgrid: false, zeroline: false, tickfont: tickFont
};
const logMinor = {ticks: 'inside', ticklen: 4, tickwidth: 1, tickcolor: '#000', dtick: 'D1', showgrid: false};

function yAxis(i, anchor, titleText) {
  return Object.assign({}, common, {
    domain: yDoms[i], anchor, type: 'log', range: nscRangeLog, dtick: 1, exponentformat: 'power',
    mirror: 'ticks', minor: logMinor, ticklabelstandoff: 4,
    title: {text: titleText || '', font: titleFont, standoff: 5}
  });
}
function xAxis(anchor, extra, titleText) {
  return Object.assign({}, common, {
    domain: xDom, anchor, mirror: true,
    title: {text: titleText, font: titleFont, standoff: 4}
  }, extra);
}

const layout = {
  width: 831, height: 940,
  margin: {l: 0, r: 0, t: 0, b: 0},
  paper_bgcolor: '#fff', plot_bgcolor: '#fff',
  showlegend: false, hovermode: false,
  font: {family: FONT, color: '#000'},
  xaxis: xAxis('y', {type: 'linear', range: haloRange, dtick: 0.1, tickformat: '.1f',
    minor: {ticks: 'inside', ticklen: 4, tickwidth: 1, tickcolor: '#000', dtick: 0.02, showgrid: false}},
    '<i>m</i><sub>halo</sub> (10<sup>12</sup><i>M</i><sub>⊙</sub>)'),
  yaxis: yAxis(0, 'x'),
  xaxis2: xAxis('y2', {type: 'log', range: gciRangeLog, dtick: 1, exponentformat: 'power', minor: logMinor},
    '<i>m</i><sub>GCi</sub> (<i>M</i><sub>⊙</sub>)'),
  yaxis2: yAxis(1, 'x2', '<i>m</i><sub>NSC</sub> (<i>M</i><sub>⊙</sub>)'),
  xaxis3: xAxis('y3', {type: 'log', range: gcfRangeLog, dtick: 1, exponentformat: 'power', minor: logMinor},
    '<i>m</i><sub>GCf</sub> (<i>M</i><sub>⊙</sub>)'),
  yaxis3: yAxis(2, 'x3'),
  annotations: rValues.map((t, i) => ({
    text: t, showarrow: false,
    xref: (i === 0 ? 'x' : 'x' + (i + 1)) + ' domain', yref: (i === 0 ? 'y' : 'y' + (i + 1)) + ' domain',
    x: 0.973, y: 0.18, xanchor: 'right', yanchor: 'middle', font: {family: FONT, size: 34, color: '#000'}
  }))
};

Plotly.newPlot('plot', traces, layout, {staticPlot: true, displayModeBar: false});
</script>
</body></html>
